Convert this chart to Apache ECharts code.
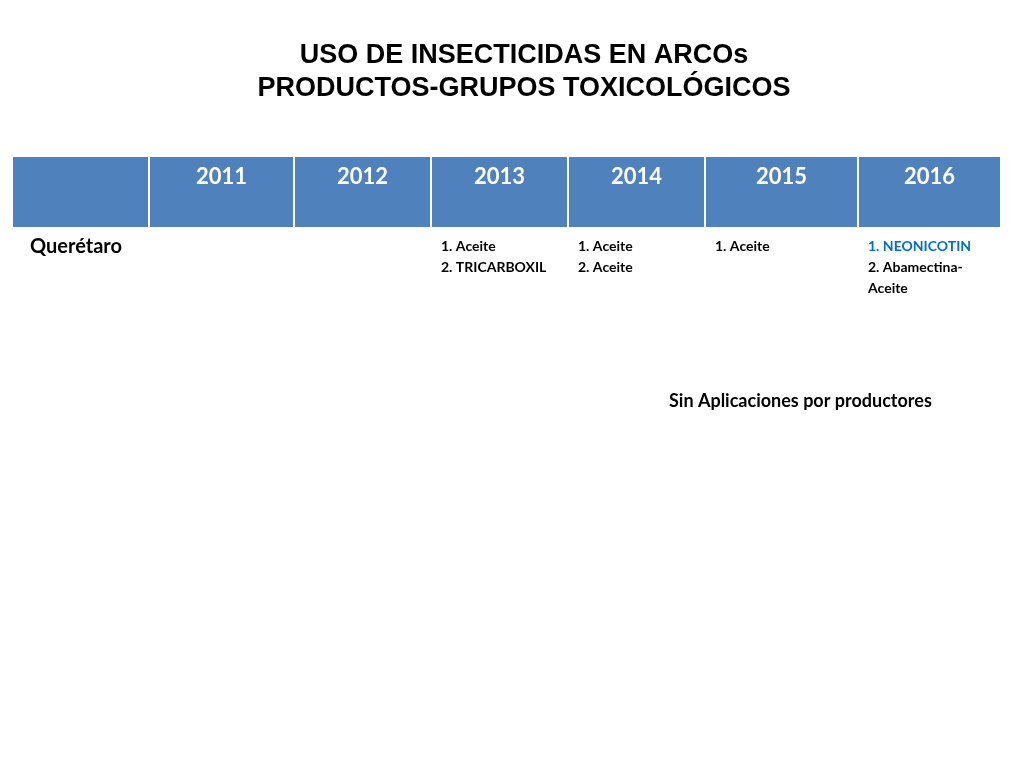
<!DOCTYPE html>
<html>
<head>
<meta charset="utf-8">
<script src="https://cdn.jsdelivr.net/npm/echarts@6/dist/echarts.min.js"></script>
<style>html,body{margin:0;padding:0;background:#fff}#main{width:1024px;height:768px}</style>
</head>
<body>
<div id="main"></div>
<script>
var titleLines = ['USO DE INSECTICIDAS EN ARCOs', 'PRODUCTOS-GRUPOS TOXICOLÓGICOS'];
var years = ['2011', '2012', '2013', '2014', '2015', '2016'];
var regionName = 'Querétaro';
// productos por año (vacío = sin dato)
var products = [
  [],
  [],
  ['1. Aceite', '2. TRICARBOXIL'],
  ['1. Aceite', '2. Aceite'],
  ['1. Aceite'],
  ['1. NEONICOTIN', '2. Abamectina-\nAceite']
];
var highlighted = ['1. NEONICOTIN'];
var note = 'Sin Aplicaciones por productores';

// bordes de columnas (px)
var colEdges = [13, 150, 295, 432, 569, 706, 859, 1002];
var headTop = 157, headH = 70;

var chart = echarts.init(document.getElementById('main'));
var g = [];
titleLines.forEach(function (t, i) {
  g.push({type: 'text', x: 524, y: 42 + i * 33,
    style: {text: t, font: 'bold 27px "Liberation Sans", Arial', fill: '#000', align: 'center'}});
});
// cabecera
for (var c = 0; c < colEdges.length - 1; c++) {
  var x0 = colEdges[c], w = colEdges[c + 1] - colEdges[c] - 2;
  g.push({type: 'rect', shape: {x: x0, y: headTop, width: w, height: headH},
    style: {fill: '#4F81BD'}});
  if (c > 0) {
    g.push({type: 'text', x: x0 + w / 2, y: headTop + 9,
      style: {text: years[c - 1], font: 'bold 22px Lato, "Open Sans"', fill: '#fff', align: 'center'}});
  }
}
g.push({type: 'text', x: 30, y: 237,
  style: {text: regionName, font: 'bold 20px Lato, "Open Sans"', fill: '#000'}});
products.forEach(function (list, i) {
  var x = colEdges[i + 1] + 9, y = 236;
  list.forEach(function (p) {
    g.push({type: 'text', x: x, y: y,
      style: {text: p, font: 'bold 14px Lato, "Open Sans"', lineHeight: 21,
        fill: highlighted.indexOf(p) >= 0 ? '#0070C0' : '#000'}});
    y += 21 * p.split('\n').length;
  });
});
g.push({type: 'text', x: 669, y: 392,
  style: {text: note, font: 'bold 18px Lato, "Open Sans"', fill: '#000'}});

chart.setOption({graphic: {elements: g}});
</script>
</body>
</html>
